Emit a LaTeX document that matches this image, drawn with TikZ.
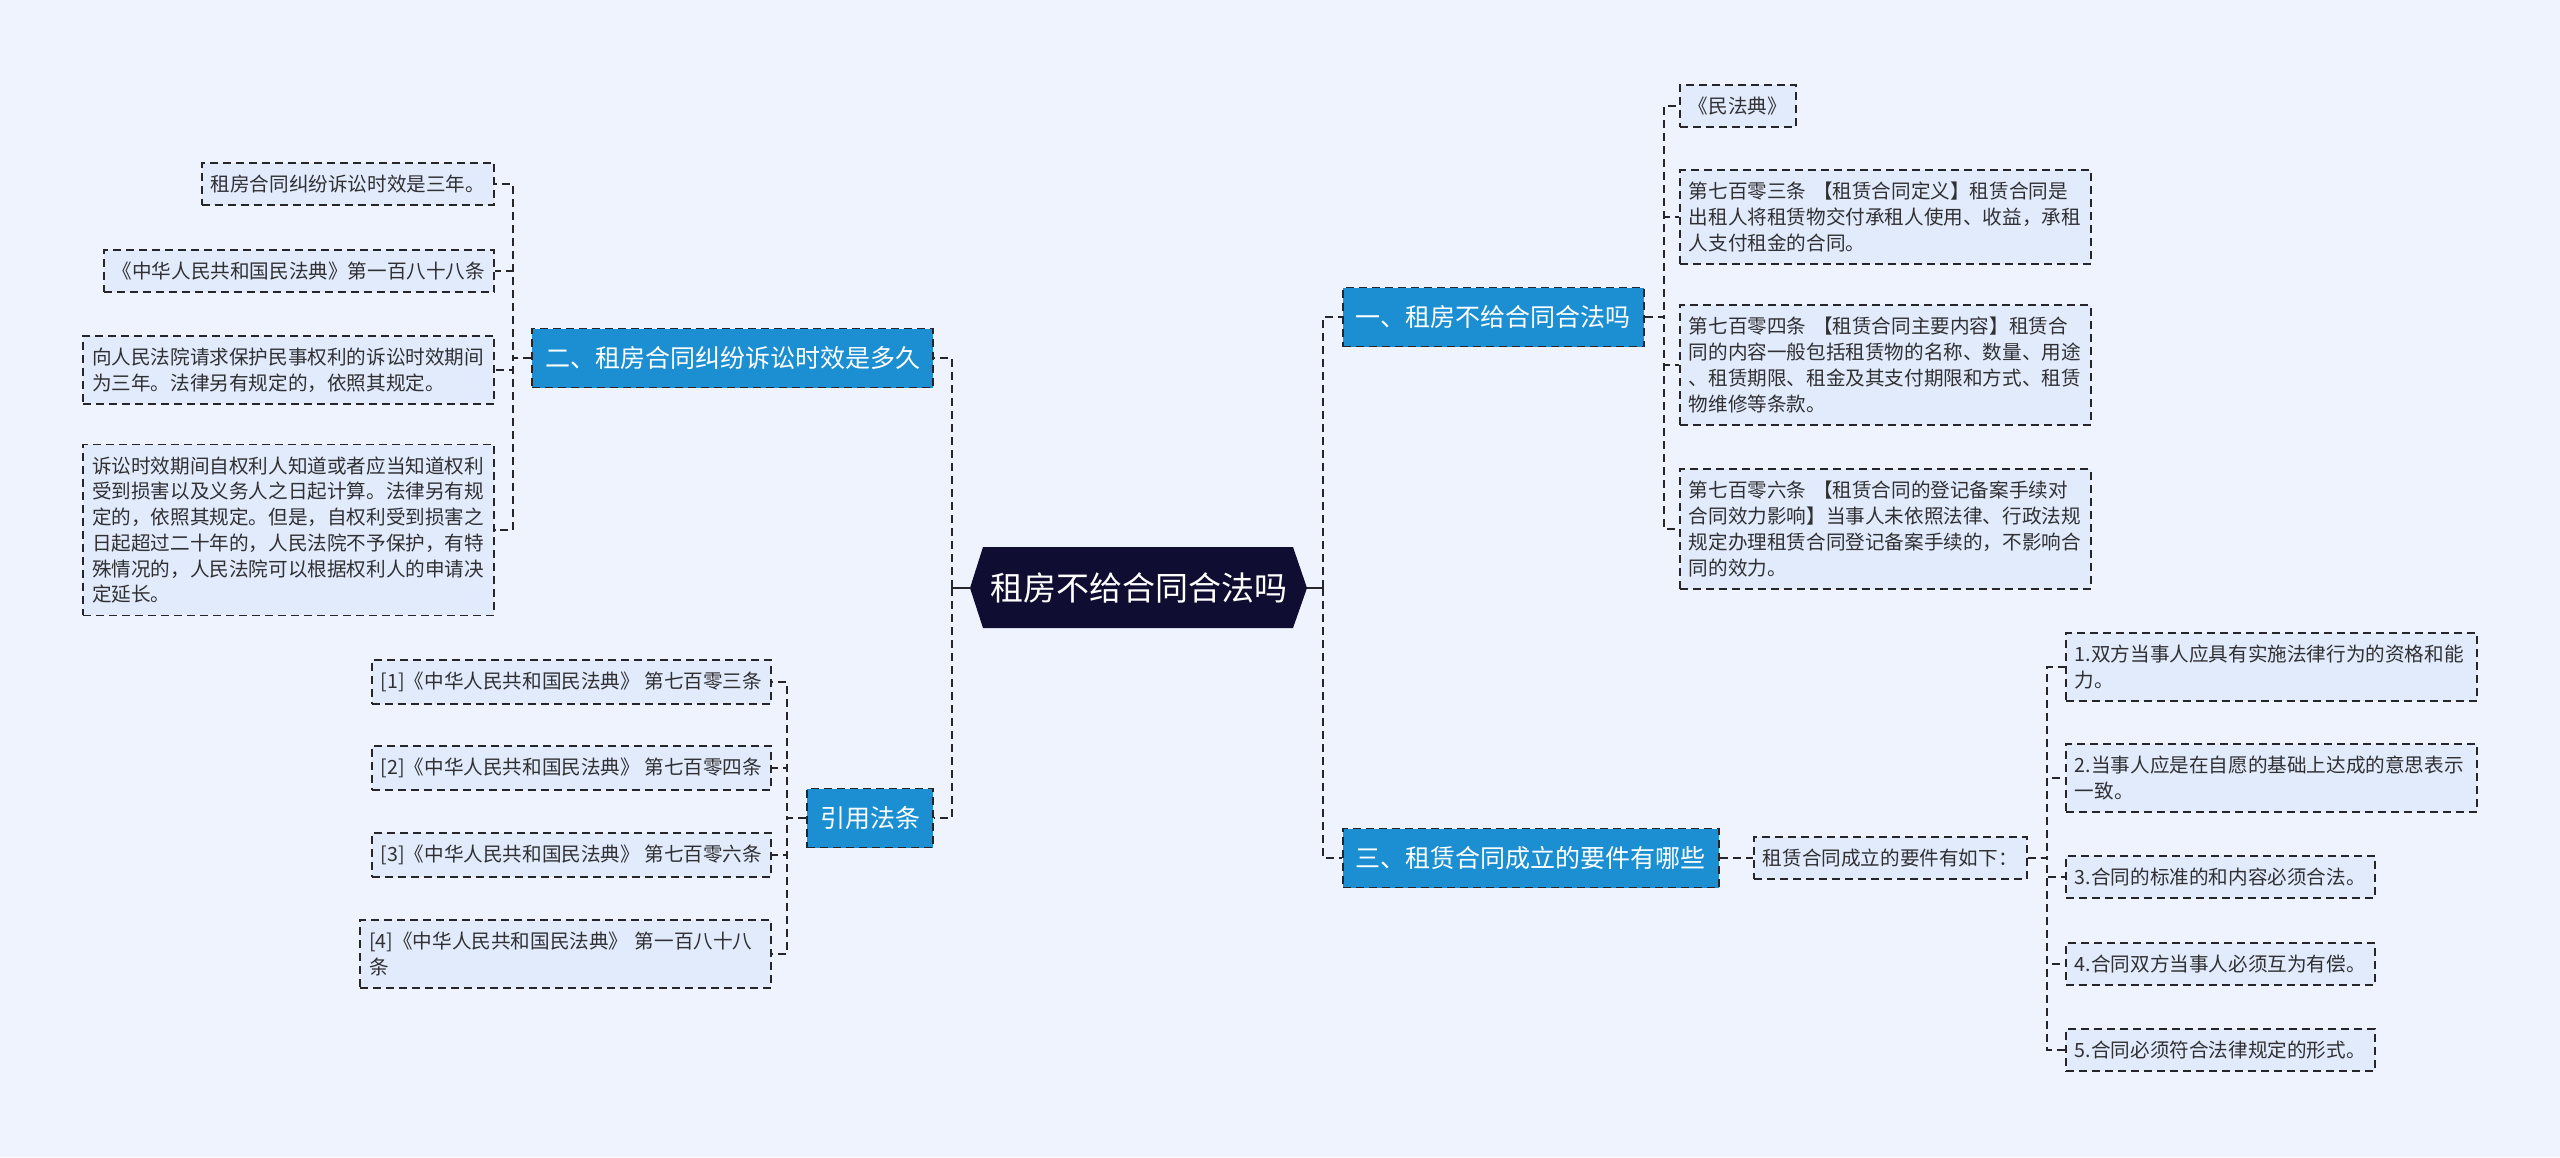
\documentclass[tikz,border=0pt]{standalone}
\usepackage{fontspec}
\setmainfont{Noto Sans CJK SC}
\usepackage{tikz}
\usepackage{xcolor}

\definecolor{pagebg}{RGB}{238,243,253}
\definecolor{leaffill}{RGB}{226,235,251}
\definecolor{branchblue}{RGB}{27,143,210}
\definecolor{rootnavy}{RGB}{16,13,50}
\definecolor{linedark}{RGB}{38,38,42}
\definecolor{textdark}{RGB}{48,48,52}

\begin{document}
\begin{tikzpicture}[x=0.5pt,y=-0.5pt,
    leaf/.style={draw=linedark, dash pattern=on 4pt off 2.5pt, line width=0.9pt,
      fill=leaffill, text=textdark, inner xsep=4.5pt, inner ysep=6pt, align=left,
      font=\fontsize{9.8}{12.85}\selectfont},
    longtext/.style={text width=196.5pt},
    branch/.style={draw=linedark, dash pattern=on 4pt off 2.5pt, line width=0.9pt,
      fill=branchblue, text=white, inner xsep=6.5pt, minimum height=29.5pt,
      font=\fontsize{12.5}{15}\selectfont},
    link/.style={draw=linedark, dash pattern=on 4pt off 2.5pt, line width=0.9pt}]

	% Page background
	\fill[pagebg] (0,0) rectangle (2560,1157);
	\useasboundingbox (0,0) rectangle (2560,1157);

	% Draw the root
	\fill[rootnavy] (970,588) -- (983,547) -- (1293,547) -- (1307,588) -- (1293,628) -- (983,628) -- cycle;
	\node (root) at (1138.5,588) [inner sep=0pt, minimum width=168.5pt, minimum height=40.5pt,
	  text=white, font=\fontsize{16.5}{20}\selectfont] {租房不给合同合法吗};

	% Left branches
	\node (b2) [branch, anchor=east] at (934,358) {二、租房合同纠纷诉讼时效是多久};
	\node (b4) [branch, anchor=east] at (934,818) {引用法条};

	\node (l1) [leaf, anchor=east] at (495,184) {租房合同纠纷诉讼时效是三年。};
	\node (l2) [leaf, anchor=east] at (495,271) {《中华人民共和国民法典》第一百八十八条};
	\node (l3) [leaf, longtext, anchor=east] at (495,370)
	  {向人民法院请求保护民事权利的诉讼时效期间\\为三年。法律另有规定的，依照其规定。};
	\node (l4) [leaf, longtext, anchor=east] at (495,530)
	  {诉讼时效期间自权利人知道或者应当知道权利\\受到损害以及义务人之日起计算。法律另有规\\定的，依照其规定。但是，自权利受到损害之\\日起超过二十年的，人民法院不予保护，有特\\殊情况的，人民法院可以根据权利人的申请决\\定延长。};

	\node (c1) [leaf, anchor=east] at (772,682) {[1]《中华人民共和国民法典》 第七百零三条};
	\node (c2) [leaf, anchor=east] at (772,768) {[2]《中华人民共和国民法典》 第七百零四条};
	\node (c3) [leaf, anchor=east] at (772,855) {[3]《中华人民共和国民法典》 第七百零六条};
	\node (c4) [leaf, longtext, anchor=east] at (772,954) {[4]《中华人民共和国民法典》 第一百八十八\\条};

	% Right branches
	\node (r1) [branch, anchor=west] at (1342,317) {一、租房不给合同合法吗};
	\node (r3) [branch, anchor=west] at (1342,858) {三、租赁合同成立的要件有哪些};

	\node (m1) [leaf, anchor=west] at (1679,106) {《民法典》};
	\node (m2) [leaf, longtext, anchor=west] at (1679,217)
	  {第七百零三条 【租赁合同定义】租赁合同是\\出租人将租赁物交付承租人使用、收益，承租\\人支付租金的合同。};
	\node (m3) [leaf, longtext, anchor=west] at (1679,365)
	  {第七百零四条 【租赁合同主要内容】租赁合\\同的内容一般包括租赁物的名称、数量、用途\\、租赁期限、租金及其支付期限和方式、租赁\\物维修等条款。};
	\node (m4) [leaf, longtext, anchor=west] at (1679,529)
	  {第七百零六条 【租赁合同的登记备案手续对\\合同效力影响】当事人未依照法律、行政法规\\规定办理租赁合同登记备案手续的，不影响合\\同的效力。};

	\node (s0) [leaf, anchor=west] at (1753,858) {租赁合同成立的要件有如下：};

	\node (t1) [leaf, longtext, anchor=west] at (2065,667) {1.双方当事人应具有实施法律行为的资格和能\\力。};
	\node (t2) [leaf, longtext, anchor=west] at (2065,778) {2.当事人应是在自愿的基础上达成的意思表示\\一致。};
	\node (t3) [leaf, anchor=west] at (2065,877) {3.合同的标准的和内容必须合法。};
	\node (t4) [leaf, anchor=west] at (2065,964) {4.合同双方当事人必须互为有偿。};
	\node (t5) [leaf, anchor=west] at (2065,1050) {5.合同必须符合法律规定的形式。};

	% Connectors from the root
	\coordinate (lbus) at (952,588);
	\coordinate (rbus) at (1323,588);
	\draw[linedark, line width=1pt] (root.west) -- (lbus);
	\draw[linedark, line width=1pt] (root.east) -- (rbus);
	\draw[link] (lbus) |- (b2.east);
	\draw[link] (lbus) |- (b4.east);
	\draw[link] (rbus) |- (r1.west);
	\draw[link] (rbus) |- (r3.west);

	% Connectors of the left branches
	\draw[link] (b2.west) -- ++(-18,0) |- (l1.east);
	\draw[link] (b2.west) -- ++(-18,0) |- (l2.east);
	\draw[link] (b2.west) -- ++(-18,0) |- (l3.east);
	\draw[link] (b2.west) -- ++(-18,0) |- (l4.east);
	\draw[link] (b4.west) -- ++(-19,0) |- (c1.east);
	\draw[link] (b4.west) -- ++(-19,0) |- (c2.east);
	\draw[link] (b4.west) -- ++(-19,0) |- (c3.east);
	\draw[link] (b4.west) -- ++(-19,0) |- (c4.east);

	% Connectors of the right branches
	\draw[link] (r1.east) -- ++(19,0) |- (m1.west);
	\draw[link] (r1.east) -- ++(19,0) |- (m2.west);
	\draw[link] (r1.east) -- ++(19,0) |- (m3.west);
	\draw[link] (r1.east) -- ++(19,0) |- (m4.west);
	\draw[link] (r3.east) -- (s0.west);
	\draw[link] (s0.east) -- ++(19,0) |- (t1.west);
	\draw[link] (s0.east) -- ++(19,0) |- (t2.west);
	\draw[link] (s0.east) -- ++(19,0) |- (t3.west);
	\draw[link] (s0.east) -- ++(19,0) |- (t4.west);
	\draw[link] (s0.east) -- ++(19,0) |- (t5.west);
\end{tikzpicture}
\end{document}
